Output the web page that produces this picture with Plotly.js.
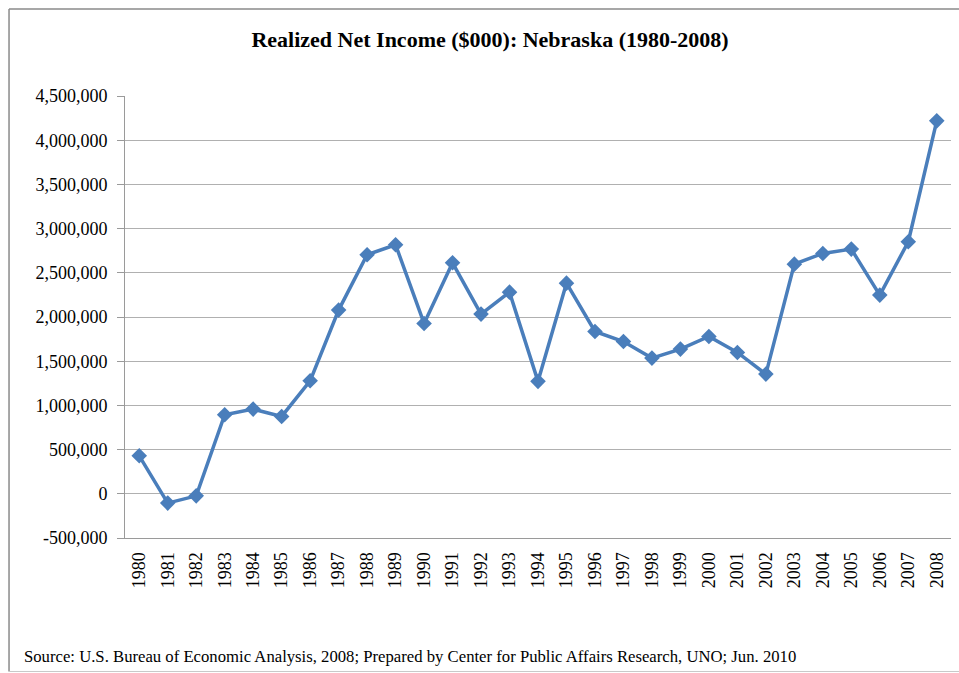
<!DOCTYPE html>
<html>
<head>
<meta charset="utf-8">
<script src="https://cdn.plot.ly/plotly-3.0.1.min.js"></script>
<style>
html,body{margin:0;padding:0;background:#fff;}
#chart{width:959px;height:673px;}
</style>
</head>
<body>
<div id="chart"></div>
<script>
const years = ["1980","1981","1982","1983","1984","1985","1986","1987","1988","1989","1990","1991","1992","1993","1994","1995","1996","1997","1998","1999","2000","2001","2002","2003","2004","2005","2006","2007","2008"];
const netIncome = [430000,-105000,-23000,894000,958000,875000,1278000,2078000,2704000,2817000,1927000,2613000,2033000,2281000,1272000,2383000,1836000,1723000,1535000,1637000,1780000,1599000,1354000,2598000,2719000,2768000,2248000,2851000,4219000];
const yTicks = [-500000,0,500000,1000000,1500000,2000000,2500000,3000000,3500000,4000000,4500000];
const yTickText = ["-500,000","0","500,000","1,000,000","1,500,000","2,000,000","2,500,000","3,000,000","3,500,000","4,000,000","4,500,000"];
const titleText = "Realized Net Income ($000): Nebraska (1980-2008)";
const sourceText = "Source: U.S. Bureau of Economic Analysis, 2008; Prepared by Center for Public Affairs Research, UNO; Jun. 2010";

const serif = "Liberation Serif";

const trace = {
  x: years,
  y: netIncome,
  type: "scatter",
  mode: "lines+markers",
  line: {color: "#4a7ebb", width: 3.5},
  marker: {symbol: "diamond", size: 12, color: "#4a7ebb"},
  hoverinfo: "x+y"
};

const layout = {
  width: 959,
  height: 673,
  margin: {l: 125, r: 8, t: 96, b: 135},
  paper_bgcolor: "#ffffff",
  plot_bgcolor: "#ffffff",
  showlegend: false,
  font: {family: serif, color: "#000"},
  title: {
    text: "<b>" + titleText + "</b>",
    font: {family: serif, size: 22, color: "#000"},
    xref: "container", x: 0.511, xanchor: "center",
    yref: "container", y: 0.941, yanchor: "middle"
  },
  xaxis: {
    type: "category",
    range: [-0.5, 28.5],
    tickangle: -90,
    tickfont: {family: serif, size: 18, color: "#000"},
    showgrid: false,
    showline: true,
    linecolor: "#9a9a9a",
    linewidth: 1,
    ticks: "",
    ticklabelstandoff: 6,
    fixedrange: true
  },
  yaxis: {
    range: [-500000, 4500000],
    tickvals: yTicks,
    ticktext: yTickText,
    tickfont: {family: serif, size: 18, color: "#000"},
    showgrid: true,
    gridcolor: "#b0b0b0",
    gridwidth: 1,
    zeroline: false,
    showline: true,
    linecolor: "#9a9a9a",
    linewidth: 1,
    ticks: "outside",
    ticklen: 7,
    tickcolor: "#9a9a9a",
    ticklabelstandoff: 6,
    fixedrange: true
  },
  shapes: [
    {type: "line", xref: "paper", yref: "paper", x0: -0.1404, x1: 1.02, y0: 1.197, y1: 1.197, line: {color: "#8a8a8a", width: 1.5}},
    {type: "line", xref: "paper", yref: "paper", x0: -0.1404, x1: -0.1404, y0: 1.197, y1: -0.302, line: {color: "#8a8a8a", width: 1.5}},
    {type: "line", xref: "paper", yref: "paper", x0: -0.1404, x1: 1.02, y0: -0.302, y1: -0.302, line: {color: "#c8c8c8", width: 1}}
  ],
  annotations: [
    {
      text: sourceText,
      xref: "paper", yref: "paper",
      x: -0.1247, xanchor: "left",
      y: -0.269, yanchor: "middle",
      showarrow: false,
      font: {family: serif, size: 16.7, color: "#000"}
    }
  ]
};

Plotly.newPlot("chart", [trace], layout, {displayModeBar: false, staticPlot: true});
</script>
</body>
</html>
